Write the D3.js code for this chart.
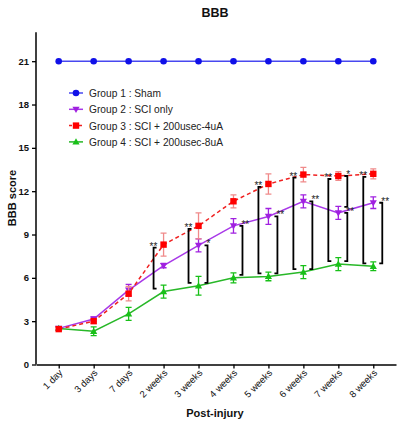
<!DOCTYPE html>
<html><head><meta charset="utf-8">
<script src="https://cdn.jsdelivr.net/npm/d3@7"></script>
<style>body{margin:0;background:#fff}svg{display:block;font-family:"Liberation Sans",Arial,sans-serif}</style>
</head><body>
<svg id="c" width="407" height="430"></svg>
<script>
const categories = ["1 day","3 days","7 days","2 weeks","3 weeks","4 weeks","5 weeks","6 weeks","7 weeks","8 weeks"];
const yTicks = [0,3,6,9,12,15,18,21];
const sham = [21,21,21,21,21,21,21,21,21,21];
const sciOnly = [2.5,3.15,5.15,6.85,8.25,9.6,10.25,11.3,10.5,11.2];
const sciOnlyErr = [0.1,0.15,0.4,0.15,0.45,0.5,0.55,0.45,0.45,0.4];
const low4uA = [2.45,3.0,4.9,8.3,9.6,11.3,12.5,13.15,13.05,13.2];
const low4uAErr = [0.1,0.15,0.5,0.8,0.9,0.45,0.7,0.5,0.3,0.35];
const high8uA = [2.5,2.3,3.5,5.05,5.45,6.0,6.1,6.4,6.95,6.8];
const high8uAErr = [0.1,0.3,0.45,0.45,0.65,0.35,0.3,0.45,0.45,0.3];
const legendLabels = ["Group 1 : Sham","Group 2 : SCI only","Group 3 : SCI + 200usec-4uA","Group 4 : SCI + 200usec-8uA"];
// significance brackets: time point, side, compared groups, label
const bracketAt    = ["2 weeks","3 weeks","3 weeks","4 weeks","5 weeks","5 weeks","6 weeks","6 weeks","7 weeks","7 weeks","7 weeks","8 weeks","8 weeks"];
const bracketSide  = ["L","L","R","R","L","R","L","R","L","R","R","L","R"];
const bracketTop   = [3,3,2,2,3,2,3,2,3,3,2,3,2];
const bracketBot   = [4,4,4,4,4,4,4,4,4,2,4,4,4];
const bracketLabel = ["**","**","*","**","**","**","**","**","**","*","**","**","**"];

const series = [
  {name:legendLabels[0], vals:sham, err:null, color:"#1010e8", line:"#4848f0", shape:"circle", dash:null},
  {name:legendLabels[1], vals:sciOnly, err:sciOnlyErr, color:"#a020e0", line:"#a838e8", shape:"down", dash:null},
  {name:legendLabels[2], vals:low4uA, err:low4uAErr, color:"#ff0000", line:"#f02020", errColor:"#f08a8a", shape:"square", dash:"4,3"},
  {name:legendLabels[3], vals:high8uA, err:high8uAErr, color:"#18c018", line:"#28b828", shape:"up", dash:null}
];

const svg = d3.select("#c");
const x = d3.scalePoint().domain(categories).range([36,396]).padding(0.65);
const y = d3.scaleLinear().domain([0,23]).range([364.5,32.3]);

// axes
const gy = svg.append("g").attr("transform","translate(36,0)")
  .call(d3.axisLeft(y).tickValues(yTicks).tickSize(4).tickPadding(3));
gy.select(".domain").attr("stroke","#000").attr("stroke-width",1.5).attr("d","M0,32.3V364.5");
gy.selectAll(".tick line").attr("stroke-width",1.3);
gy.selectAll("text").attr("font-size",9.5).attr("font-weight","bold").attr("fill","#111");

const gx = svg.append("g").attr("transform","translate(0,364.5)")
  .call(d3.axisBottom(x).tickSize(4).tickSizeOuter(0));
gx.select(".domain").attr("stroke","#000").attr("stroke-width",1.5);
gx.selectAll(".tick line").attr("stroke-width",1.3);
gx.selectAll("text").attr("font-size",9.5).attr("fill","#111")
  .attr("text-anchor","end").attr("dy",0).attr("y",0)
  .attr("transform","translate(4,9) rotate(-45)");

// titles
svg.append("text").attr("x",215).attr("y",17).attr("text-anchor","middle")
  .attr("font-size",12.5).attr("font-weight","bold").attr("fill","#111").text("BBB");
svg.append("text").attr("x",215).attr("y",417).attr("text-anchor","middle")
  .attr("font-size",11).attr("font-weight","bold").attr("fill","#111").text("Post-injury");
svg.append("text").attr("transform","translate(16,198) rotate(-90)").attr("text-anchor","middle")
  .attr("font-size",11).attr("font-weight","bold").attr("fill","#111").text("BBB score");

function marker(g, shape, color){
  if(shape==="circle") g.append("circle").attr("r",3.3).attr("fill",color);
  else if(shape==="square") g.append("rect").attr("x",-3.2).attr("y",-3.2).attr("width",6.4).attr("height",6.4).attr("fill",color);
  else if(shape==="down") g.append("path").attr("d","M-3.6,-2.6L3.6,-2.6L0,3.6Z").attr("fill",color);
  else g.append("path").attr("d","M-3.6,2.6L3.6,2.6L0,-3.6Z").attr("fill",color);
}

// draw series (green, purple, red, blue order)
const order = [3,1,2,0];
order.forEach(i=>{
  const s = series[i];
  const g = svg.append("g");
  if(s.err){
    s.vals.forEach((v,j)=>{
      const cx = x(categories[j]), e = s.err[j];
      const ec = s.errColor || s.color;
      g.append("path").attr("d",`M${cx},${y(v+e)}V${y(v-e)}M${cx-3},${y(v+e)}H${cx+3}M${cx-3},${y(v-e)}H${cx+3}`)
        .attr("stroke",ec).attr("stroke-width",1.3).attr("fill","none");
    });
  }
  const line = d3.line().x((d,j)=>x(categories[j])).y(d=>y(d));
  g.append("path").datum(s.vals).attr("d",line).attr("fill","none")
    .attr("stroke",s.line).attr("stroke-width",1.5).attr("stroke-dasharray",s.dash);
  s.vals.forEach((v,j)=>{
    marker(g.append("g").attr("transform",`translate(${x(categories[j])},${y(v)})`), s.shape, s.color);
  });
});

// brackets
const bg = svg.append("g");
bracketAt.forEach((c,k)=>{
  const j = categories.indexOf(c);
  const cx = x(c);
  const left = bracketSide[k]==="L";
  const bx = left ? cx-10 : cx+9;
  const yt = y(series[bracketTop[k]-1].vals[j]) + (left?3:0);
  let yb = y(series[bracketBot[k]-1].vals[j]) - 3;
  if(bracketBot[k]===2) yb = y(series[1].vals[j]) - 6;
  const t = left ? 3 : -3;
  bg.append("path").attr("d",`M${bx+t},${yt}H${bx}V${yb}H${bx+t}`)
    .attr("fill","none").attr("stroke","#000").attr("stroke-width",1.8);
  bg.append("text").attr("x", left ? bx-4 : bx-1).attr("y", yt+2)
    .attr("font-size",10).attr("fill","#222").text(bracketLabel[k]);
});

// legend
const lg = svg.append("g");
series.forEach((s,i)=>{
  const ly = 93 + i*16.3;
  lg.append("line").attr("x1",69).attr("x2",83).attr("y1",ly).attr("y2",ly)
    .attr("stroke",s.line).attr("stroke-width",1.5).attr("stroke-dasharray",s.dash?"3,2":null);
  marker(lg.append("g").attr("transform",`translate(76,${ly})`), s.shape, s.color);
  lg.append("text").attr("x",89).attr("y",ly+4).attr("font-size",10.2).attr("fill","#222").text(s.name);
});
</script>
</body></html>
